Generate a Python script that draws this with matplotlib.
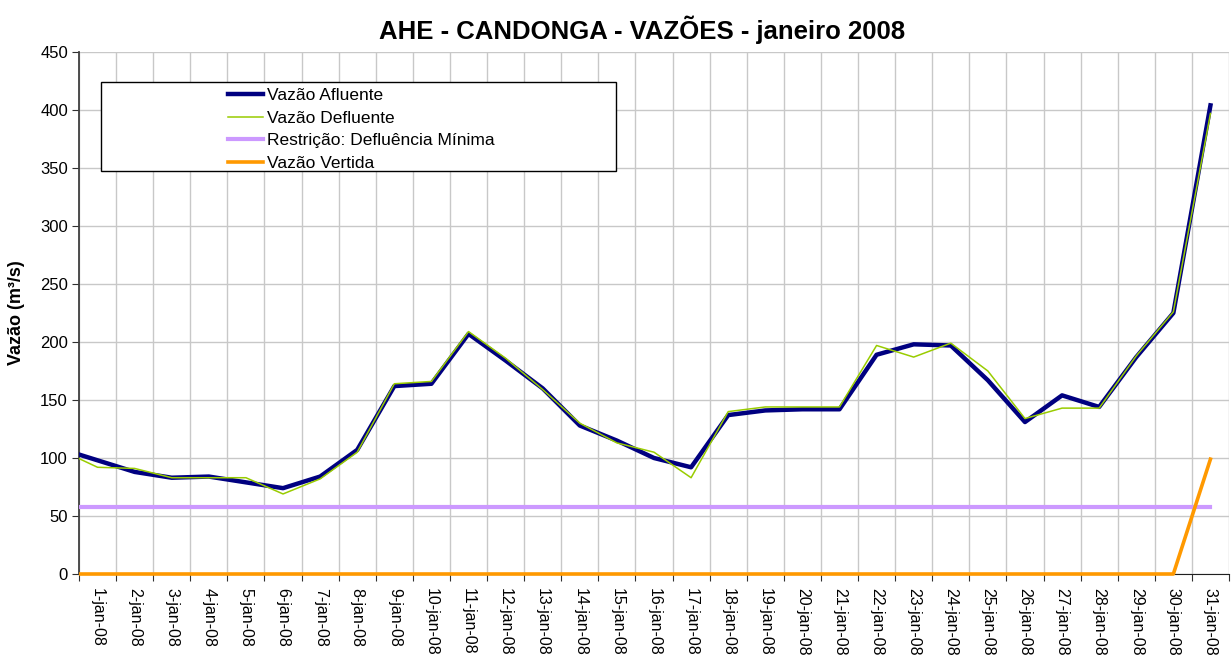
import numpy as np
import matplotlib.pyplot as plt
import matplotlib.transforms as mtransforms
from matplotlib.patches import Rectangle

plt.rcParams['font.family'] = ['Liberation Sans', 'DejaVu Sans']

# Dias (0 = 31-dez-07: só o pedacinho até a borda do gráfico aparece)
dias = np.arange(0, 32)
rotulos = ['%d-jan-08' % d for d in range(1, 32)]

# Vazões (m3/s)
afluente = [108, 98, 88, 83, 84, 79, 74, 84, 107, 162, 164, 207, 184, 160, 128, 115,
            100, 92, 137, 141, 142, 142, 189, 198, 197, 167, 131, 154, 144, 187, 225, 404]
defluente = [107, 92, 91, 83, 83, 83, 69, 82, 105, 164, 166, 209, 186, 159, 130, 113,
             105, 83, 140, 144, 144, 144, 197, 187, 199, 175, 134, 143, 143, 188, 226, 397]
restricao = [58] * 32
vertida = [0] * 31 + [99]

titulo = 'AHE - CANDONGA - VAZÕES - janeiro 2008'

fig = plt.figure(figsize=(12.31, 6.61), dpi=100)
ax = fig.add_axes([79 / 1231, 87 / 661, 1150 / 1231, 522 / 661])

l1, = ax.plot(dias, afluente, color='#000080', lw=3.2, label='Vazão Afluente', zorder=3)
l2, = ax.plot(dias, defluente, color='#99CC00', lw=1.1, label='Vazão Defluente', zorder=3)
l3, = ax.plot(dias, restricao, color='#CC99FF', lw=3.0, label='Restrição: Defluência Mínima', zorder=3)
l4, = ax.plot(dias, vertida, color='#FF9900', lw=2.6, label='Vazão Vertida', zorder=3)

# corta só na horizontal (a linha do zero fica inteira)
trans = mtransforms.blended_transform_factory(ax.transData, ax.transAxes)
for ln in (l1, l2, l3, l4):
    ln.set_clip_path(Rectangle((0.5, -0.05), 31, 1.1, transform=trans))

ax.set_xlim(0.5, 31.5)
ax.set_ylim(0, 450)
ax.set_yticks(range(0, 451, 50))
ax.set_xticks(np.arange(0.5, 32, 1))
ax.set_xticklabels([])
ax.set_xticks(range(1, 32), minor=True)
ax.set_xticklabels(rotulos, minor=True, rotation=270, fontsize=11.5)
ax.tick_params(axis='x', which='major', length=5, color='#303030')
ax.tick_params(axis='x', which='minor', length=0, pad=10)
ax.tick_params(axis='y', length=5, pad=3, labelsize=12, color='#303030')

ax.grid(True, which='major', color='#C8C8C8', lw=1)
ax.set_axisbelow(True)
for s in ['top', 'right']:
    ax.spines[s].set_visible(False)
ax.spines['left'].set_color('#404040')
ax.spines['left'].set_linewidth(1.3)
ax.spines['bottom'].set_color('#202020')

# caixa da legenda (larga, como no Excel)
ax.add_patch(Rectangle((0.019, 0.772), 0.448, 0.17, transform=ax.transAxes,
                       facecolor='white', edgecolor='black', lw=1, zorder=5))
leg = ax.legend(loc='upper left', bbox_to_anchor=((219 - 79) / 1150, 0.947),
                frameon=False, fontsize=12.5, handlelength=2.05, handletextpad=0.2,
                borderpad=0, labelspacing=0.42)
leg.set_zorder(6)

fig.text(17 / 1231, 1 - 313 / 661, 'Vazão (m³/s)', rotation=90, fontsize=13,
         fontweight='bold', ha='center', va='center')
fig.text(642 / 1231, 1 - 30 / 661, titulo, fontsize=18.5, fontweight='bold',
         ha='center', va='center')

plt.savefig('out.png', dpi=100)
